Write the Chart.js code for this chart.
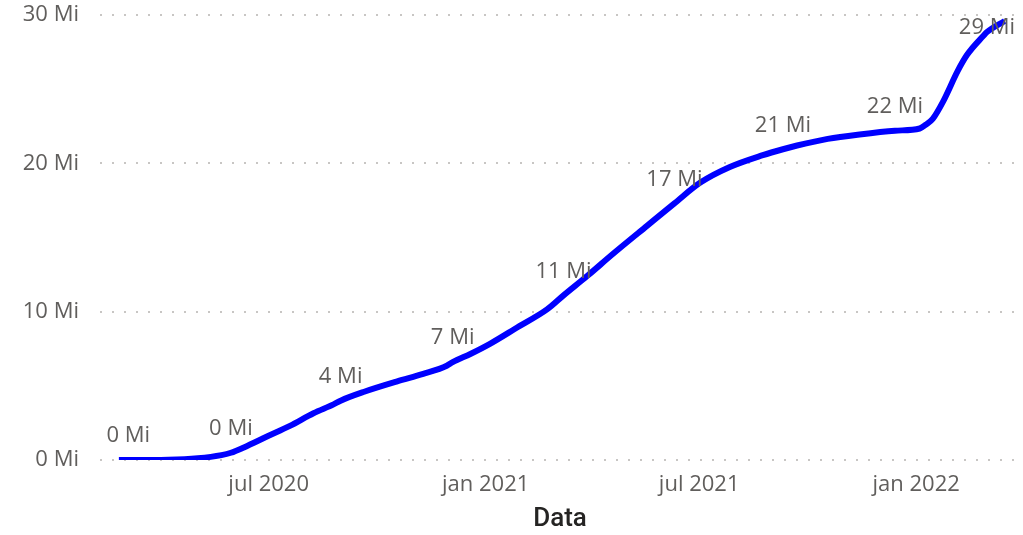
<!DOCTYPE html>
<html>
<head>
<meta charset="utf-8">
<script src="https://cdn.jsdelivr.net/npm/chart.js@4"></script>
<style>
  html, body { margin: 0; padding: 0; background: #fff; }
  #wrap { width: 1023px; height: 535px; position: relative; }
</style>
</head>
<body>
<div id="wrap"><canvas id="grafico"></canvas></div>
<script>
// casos acumulados (milhões)
const datas = [
  '2020-02-25', '2020-03-04', '2020-04-07', '2020-05-02', '2020-05-22', '2020-05-30',
  '2020-06-10', '2020-06-30', '2020-07-19', '2020-08-08', '2020-08-25', '2020-08-31',
  '2020-09-20', '2020-10-18', '2020-11-09', '2020-11-29', '2020-12-04', '2020-12-19',
  '2021-01-05', '2021-01-28', '2021-02-22', '2021-03-08', '2021-03-28', '2021-04-19',
  '2021-05-18', '2021-06-10', '2021-07-02', '2021-07-27', '2021-08-24', '2021-09-10',
  '2021-09-22', '2021-10-18', '2021-11-14', '2021-12-14', '2022-01-04', '2022-01-09',
  '2022-01-15', '2022-01-24', '2022-02-05', '2022-02-13', '2022-02-27', '2022-03-02',
  '2022-03-17'
];
const casos = [
  0, 0, 0.02, 0.12, 0.33, 0.49,
  0.85, 1.6, 2.3, 3.15, 3.75, 4.0,
  4.6, 5.3, 5.8, 6.35, 6.6, 7.15,
  7.85, 8.95, 10.15, 11.1, 12.4, 13.9,
  15.8, 17.3, 18.7, 19.75, 20.55, 20.95,
  21.2, 21.65, 21.95, 22.2, 22.35, 22.6,
  23.0, 24.2, 26.2, 27.3, 28.6, 28.85,
  29.6
];
// pontos que recebem rótulo de dados
const datasRotulo = ['2020-03-04', '2020-05-30', '2020-08-31', '2020-12-04', '2021-03-08',
  '2021-06-10', '2021-09-10', '2021-12-14', '2022-03-02'];

const ticksEixoX = ['2020-07-01', '2021-01-01', '2021-07-01', '2022-01-01'];
const rotulosEixoX = ['jul 2020', 'jan 2021', 'jul 2021', 'jan 2022'];
const inicioEixo = '2020-02-09';
const fimEixo = '2022-03-30';

const dia = s => {
  const [a, m, d] = s.split('-').map(Number);
  return Date.UTC(a, m - 1, d) / 86400000;
};

const fonte = "'Open Sans', sans-serif";
const cinza = '#605E5C';

// === Rótulos de dados (estilo Power BI) ===
const rotulosPlugin = {
  id: 'rotulos',
  afterDatasetsDraw(chart) {
    const meta = chart.getDatasetMeta(0);
    const ctx = chart.ctx;
    const area = chart.chartArea;
    ctx.save();
    ctx.font = '22px ' + fonte;
    ctx.fillStyle = cinza;
    ctx.textAlign = 'center';
    ctx.textBaseline = 'middle';
    datasRotulo.forEach(d => {
      const i = datas.indexOf(d);
      if (i < 0) return;
      const p = meta.data[i];
      const y = Math.max(p.y - 24, area.top + 13);
      ctx.fillText(Math.round(casos[i]) + ' Mi', p.x, y);
    });
    ctx.restore();
  }
};

new Chart(document.getElementById('grafico'), {
  type: 'line',
  data: {
    datasets: [{
      label: 'Casos',
      data: datas.map((d, i) => ({ x: dia(d), y: casos[i] })),
      borderColor: '#0000FF',
      borderWidth: 6,
      pointRadius: 0,
      cubicInterpolationMode: 'monotone',
      fill: false
    }]
  },
  options: {
    responsive: true,
    maintainAspectRatio: false,
    animation: false,
    layout: { padding: { left: 0, right: 3, top: 15, bottom: 0 } },
    scales: {
      x: {
        type: 'linear',
        min: dia(inicioEixo),
        max: dia(fimEixo),
        afterBuildTicks: scale => {
          scale.ticks = ticksEixoX.map(d => ({ value: dia(d) }));
        },
        afterFit: scale => {
          scale.height = 75;
          scale.paddingLeft = 0;
          scale.paddingRight = 0;
        },
        ticks: {
          callback: (v, i) => rotulosEixoX[i],
          color: cinza,
          font: { family: fonte, size: 22 },
          maxRotation: 0,
          autoSkip: false,
          padding: 12
        },
        grid: { display: false, drawTicks: false },
        border: { display: false },
        title: {
          display: true,
          text: 'Data',
          color: '#252423',
          font: { family: 'Roboto', size: 26, weight: '500' },
          padding: { top: 0, bottom: 0 }
        }
      },
      y: {
        min: 0,
        max: 30,
        afterFit: scale => {
          scale.width = 100;
          scale.paddingTop = 0;
          scale.paddingBottom = 0;
        },
        ticks: {
          stepSize: 10,
          callback: v => v + ' Mi',
          color: cinza,
          font: { family: fonte, size: 22 },
          padding: 21
        },
        grid: {
          color: '#C8C6C4',
          lineWidth: 2,
          drawTicks: false
        },
        border: { display: false, dash: [2, 10] }
      }
    },
    plugins: {
      legend: { display: false },
      tooltip: { enabled: false }
    }
  },
  plugins: [rotulosPlugin]
});
</script>
</body>
</html>
